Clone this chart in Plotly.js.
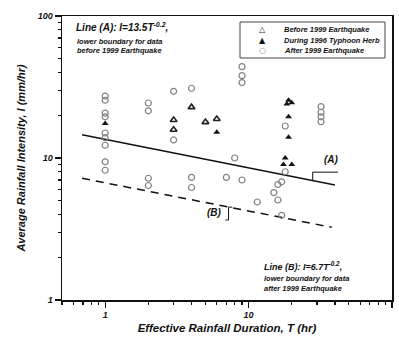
<!DOCTYPE html>
<html>
<head>
<meta charset="utf-8">
<script src="https://cdn.plot.ly/plotly-3.0.1.min.js"></script>
<style>html,body{margin:0;padding:0;background:#fff;}#chart{width:399px;height:338px;}</style>
</head>
<body>
<div id="chart"></div>
<script>
// ---- data ----
var seriesNames = ['Before 1999 Earthquake', 'During 1996 Typhoon Herb', 'After 1999 Earthquake'];

var beforeT = [3, 3, 4, 5, 6];
var beforeI = [18.5, 15.8, 22.8, 17.9, 18.8];

var duringT = [1, 6, 19, 20, 18.5, 19, 19, 18, 17.5, 20];
var duringI = [17.5, 15.2, 25.5, 24.5, 24, 19.5, 14, 10, 9, 9];

var afterT = [1, 1, 1, 1, 1, 1, 1, 1, 1,
              2, 2, 2, 2,
              3, 3,
              4, 4, 4,
              7, 8,
              9, 9, 9, 9,
              11.5, 15, 16, 16, 17, 18, 18, 17,
              32, 32, 32, 32];
var afterI = [27.3, 25.5, 20.7, 19.5, 15, 13.9, 12.3, 9.4, 8.2,
              24.4, 21.5, 7.2, 6.4,
              29.5, 13.4,
              31, 7.3, 6.2,
              7.3, 10,
              44, 38, 34, 7.0,
              4.9, 5.7, 5.06, 6.5, 6.8, 8, 16.8, 3.95,
              23, 21, 19.5, 18];

// boundary lines (end points)
var lineA_T = [0.69, 40];
var lineA_I = [14.6, 6.45];
var lineB_T = [0.69, 38];
var lineB_I = [7.2, 3.25];

var xTitle = 'Effective Rainfall Duration, T (hr)';
var yTitle = 'Average Rainfall Intensity, I (mm/hr)';

// ---- drawing ----
var F = 'Liberation Sans, Arial, sans-serif';
function bi(size, color) { return {family: F, size: size, color: color || '#111', weight: 'bold', style: 'italic'}; }

var traces = [
  {x: lineA_T, y: lineA_I, mode: 'lines', line: {color: '#111', width: 1.5}, showlegend: false, hoverinfo: 'skip'},
  {x: lineB_T, y: lineB_I, mode: 'lines', line: {color: '#111', width: 1.5, dash: '8px,6px'}, showlegend: false, hoverinfo: 'skip'},
  {x: afterT, y: afterI, name: seriesNames[2], mode: 'markers', showlegend: false,
   marker: {symbol: 'circle-open', size: 6, color: '#808080', line: {width: 1.2}}},
  {x: beforeT, y: beforeI, name: seriesNames[0], mode: 'markers', showlegend: false,
   marker: {symbol: 'triangle-up-open', size: 6, color: '#222', line: {width: 1.6}}},
  {x: duringT, y: duringI, name: seriesNames[1], mode: 'markers', showlegend: false,
   marker: {symbol: 'triangle-up', size: 6, color: '#111'}}
];

var px0 = 62, py1 = 300, pw = 330, ph = 284;
function xp(px) { return (px - px0) / pw; }
function yp(py) { return (py1 - py) / ph; }
var xlo = Math.log10(0.5), xhi = 2;
function tx(T) { return (Math.log10(T) - xlo) / (xhi - xlo); }
function iy(I) { return Math.log10(I) / 2; }

var legRows = [29, 40, 51];
var legSyms = ['△', '▲', '○'];
var legCols = ['#222', '#111', '#808080'];

var annotations = [
  {xref: 'paper', yref: 'paper', x: xp(74), y: yp(27), xanchor: 'left', yanchor: 'middle', showarrow: false,
   text: 'Line (A): I=13.5T<sup>-0.2</sup>,', font: bi(10)},
  {xref: 'paper', yref: 'paper', x: xp(75), y: yp(41), xanchor: 'left', yanchor: 'middle', showarrow: false,
   text: 'lower boundary for data', font: bi(7.5)},
  {xref: 'paper', yref: 'paper', x: xp(75), y: yp(51), xanchor: 'left', yanchor: 'middle', showarrow: false,
   text: 'before 1999 Earthquake', font: bi(7.5)},
  {xref: 'paper', yref: 'paper', x: xp(262), y: yp(266), xanchor: 'left', yanchor: 'middle', showarrow: false,
   text: 'Line (B): I=6.7T<sup>-0.2</sup>,', font: bi(9)},
  {xref: 'paper', yref: 'paper', x: xp(262), y: yp(278), xanchor: 'left', yanchor: 'middle', showarrow: false,
   text: 'lower boundary for data', font: bi(7.5)},
  {xref: 'paper', yref: 'paper', x: xp(262), y: yp(288), xanchor: 'left', yanchor: 'middle', showarrow: false,
   text: 'after 1999 Earthquake', font: bi(7.5)},
  {xref: 'x', yref: 'y', x: Math.log10(38), y: Math.log10(9.8), xanchor: 'center', yanchor: 'middle', showarrow: false,
   text: '(A)', font: bi(10)},
  {xref: 'x', yref: 'y', x: Math.log10(5.8), y: Math.log10(4.1), xanchor: 'center', yanchor: 'middle', showarrow: false,
   text: '(B)', font: bi(10)}
];
for (var k = 0; k < 3; k++) {
  annotations.push({xref: 'paper', yref: 'paper', x: xp(262), y: yp(legRows[k]), xanchor: 'center', yanchor: 'middle',
    showarrow: false, text: legSyms[k], font: {family: 'DejaVu Sans', size: 8, color: legCols[k]}});
  annotations.push({xref: 'paper', yref: 'paper', x: xp(282), y: yp(legRows[k]), xanchor: 'left', yanchor: 'middle',
    showarrow: false, text: seriesNames[k], font: bi(7.5)});
}

function P(T, I) { return tx(T).toFixed(4) + ',' + iy(I).toFixed(4); }
var shapes = [
  {type: 'rect', xref: 'paper', yref: 'paper', x0: xp(240), x1: xp(385), y0: yp(58), y1: yp(22),
   line: {color: '#444', width: 1}},
  {type: 'path', xref: 'paper', yref: 'paper',
   path: 'M' + P(28, 6.88) + ' L' + P(28, 7.95) + ' L' + P(42, 7.95),
   line: {color: '#111', width: 1}},
  {type: 'path', xref: 'paper', yref: 'paper',
   path: 'M' + P(6.9, 3.66) + ' L' + P(7.25, 3.66) + ' L' + P(7.25, 4.51) + ' L' + P(7.7, 4.51),
   line: {color: '#111', width: 1}}
];

var layout = {
  width: 399, height: 338,
  margin: {l: 62, r: 7, t: 16, b: 38},
  paper_bgcolor: '#fff', plot_bgcolor: '#fff',
  showlegend: false,
  xaxis: {type: 'log', range: [xlo, xhi], tickvals: [1, 10, 100], ticktext: ['1', '10', '100'],
    ticks: 'outside', ticklen: 6, tickwidth: 1.2, tickcolor: '#111',
    minor: {ticks: 'outside', ticklen: 3, tickcolor: '#111', tickvals: [0.5,0.6,0.7,0.8,0.9,2,3,4,5,6,7,8,9,20,30,40,50,60,70,80,90]},
    showgrid: false, zeroline: false, showline: true, linecolor: '#111', linewidth: 1.5, mirror: true,
    tickfont: bi(9), title: {text: xTitle, font: bi(11.5), standoff: 4}},
  yaxis: {type: 'log', range: [0, 2], tickvals: [1, 10, 100], ticktext: ['1', '10', '100'],
    ticks: 'outside', ticklen: 6, tickwidth: 1.2, tickcolor: '#111',
    minor: {ticks: 'outside', ticklen: 3, tickcolor: '#111', tickvals: [2,3,4,5,6,7,8,9,20,30,40,50,60,70,80,90]},
    showgrid: false, zeroline: false, showline: true, linecolor: '#111', linewidth: 1.5, mirror: true,
    tickfont: bi(9), title: {text: yTitle, font: bi(11), standoff: 10}},
  annotations: annotations,
  shapes: shapes
};

Plotly.newPlot('chart', traces, layout, {displayModeBar: false, staticPlot: true});
</script>
</body>
</html>
